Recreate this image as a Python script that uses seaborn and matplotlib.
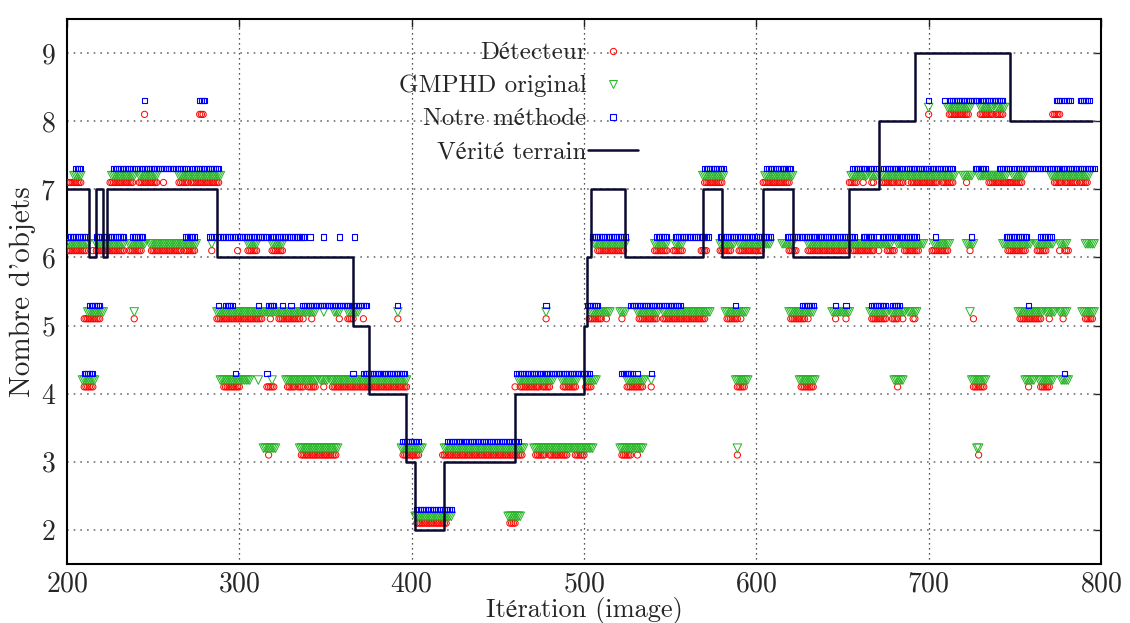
import pandas as pd
import seaborn as sns
import matplotlib.pyplot as plt
from matplotlib.lines import Line2D

# runs of consecutive iterations (start, end), per object count
DET_RUNS = {
    8: [(245, 245), (277, 279), (700, 700), (712, 723), (730, 737), (739, 743), (772, 776)],
    7: [(201, 208), (225, 238), (242, 252), (256, 256), (265, 270), (272, 288), (570, 580),
        (604, 619), (654, 658), (662, 662), (667, 668), (673, 680), (682, 685), (688, 688),
        (690, 705), (708, 714), (722, 722), (735, 754), (773, 777), (779, 786), (788, 792)],
    6: [(200, 211), (215, 215), (217, 227), (228, 233), (236, 243), (249, 266), (268, 274),
        (284, 284), (299, 299), (305, 310), (319, 325), (508, 523), (541, 548), (552, 557),
        (568, 571), (579, 585), (590, 603), (619, 623), (630, 653), (656, 668), (671, 671),
        (676, 680), (686, 694), (702, 711), (724, 724), (746, 756), (763, 768), (776, 776),
        (779, 781)],
    5: [(210, 219), (239, 239), (287, 313), (318, 318), (323, 335), (337, 337), (342, 342),
        (358, 358), (363, 366), (372, 372), (392, 392), (478, 478), (503, 510), (513, 513),
        (522, 522), (532, 542), (546, 570), (583, 589), (591, 591), (620, 628), (630, 630),
        (646, 646), (652, 652), (667, 675), (679, 682), (685, 685), (691, 692), (726, 726),
        (753, 765), (770, 770), (778, 778), (791, 795)],
    4: [(210, 215), (291, 300), (316, 320), (328, 332), (334, 337), (340, 344), (349, 349),
        (354, 397), (460, 460), (463, 474), (476, 480), (488, 495), (501, 504), (525, 534),
        (539, 539), (589, 593), (626, 633), (682, 682), (726, 732), (758, 758), (765, 770)],
    3: [(317, 317), (336, 356), (395, 404), (418, 464), (472, 477), (480, 490), (495, 500),
        (522, 527), (531, 531), (589, 589), (729, 729)],
    2: [(403, 420), (457, 460)],
}

GMPHD_RUNS = {
    8: [(700, 700), (711, 724), (730, 737), (739, 744)],
    7: [(204, 208), (226, 239), (242, 252), (265, 271), (272, 289), (569, 581), (605, 621),
        (655, 664), (666, 670), (673, 706), (707, 715), (720, 725), (729, 745), (749, 755),
        (771, 782), (783, 793)],
    6: [(200, 212), (217, 233), (236, 245), (248, 275), (284, 284), (305, 310), (319, 325),
        (506, 524), (541, 548), (553, 557), (579, 587), (590, 608), (615, 621), (630, 669),
        (670, 678), (682, 697), (703, 712), (722, 726), (743, 759), (762, 772), (776, 780),
        (791, 796)],
    5: [(212, 221), (239, 239), (287, 339), (340, 344), (349, 349), (355, 358), (363, 369),
        (392, 392), (478, 478), (504, 511), (512, 515), (521, 524), (531, 543), (546, 573),
        (582, 594), (619, 633), (644, 654), (666, 676), (678, 686), (688, 693), (724, 724),
        (752, 766), (768, 773), (776, 780), (789, 796)],
    4: [(209, 216), (289, 306), (311, 311), (319, 319), (327, 338), (339, 345), (347, 351),
        (353, 397), (462, 482), (487, 496), (501, 507), (525, 535), (539, 539), (588, 595),
        (625, 634), (680, 685), (725, 733), (756, 761), (764, 772), (777, 781)],
    3: [(314, 321), (335, 357), (394, 406), (419, 465), (471, 491), (492, 505), (521, 534),
        (589, 589), (728, 729)],
    2: [(402, 423), (456, 463)],
}

NOTRE_RUNS = {
    8: [(245, 245), (277, 280), (700, 700), (709, 709), (712, 729), (731, 743), (774, 777),
        (779, 782), (788, 793)],
    7: [(205, 208), (227, 240), (242, 270), (273, 288), (570, 581), (606, 620), (656, 664),
        (666, 669), (674, 680), (681, 685), (687, 690), (691, 714), (727, 733), (741, 747),
        (750, 767), (769, 780), (781, 790), (791, 796)],
    6: [(200, 211), (217, 233), (238, 244), (269, 274), (283, 285), (288, 316), (319, 338),
        (341, 341), (349, 349), (358, 358), (367, 367), (505, 524), (542, 548), (553, 572),
        (579, 608), (618, 657), (662, 668), (670, 670), (673, 682), (684, 693), (704, 704),
        (725, 725), (745, 757), (765, 771)],
    5: [(213, 219), (288, 288), (292, 296), (311, 311), (317, 320), (325, 325), (330, 330),
        (337, 374), (392, 392), (478, 478), (502, 508), (527, 545), (547, 556), (588, 588),
        (627, 633), (646, 646), (652, 652), (667, 675), (679, 683), (758, 758)],
    4: [(210, 215), (298, 298), (316, 316), (366, 366), (372, 396), (461, 503), (522, 528),
        (531, 531), (539, 539), (779, 779)],
    3: [(395, 404), (421, 462)],
    2: [(403, 423)],
}

# ground truth: iteration where the count changes, and the new count
GT_ITER = [200, 213, 217, 221, 223, 287, 366, 375, 397, 402, 419, 460, 500, 502, 504,
           524, 569, 580, 604, 621, 654, 671, 692, 747, 795]
GT_COUNT = [7, 6, 7, 6, 7, 6, 5, 4, 3, 2, 3, 4, 5, 6, 7,
            6, 7, 6, 7, 6, 7, 8, 9, 8, 8]

LABELS = ["Détecteur", "GMPHD original", "Notre méthode", "Vérité terrain"]


def expand(runs):
    rows = []
    for count, spans in runs.items():
        for a, b in spans:
            for it in range(a, b + 1):
                rows.append((it, count))
    return pd.DataFrame(rows, columns=["iteration", "count"])


det = expand(DET_RUNS)
gmphd = expand(GMPHD_RUNS)
notre = expand(NOTRE_RUNS)
gt = pd.DataFrame({"iteration": GT_ITER, "count": GT_COUNT})

# markers are drawn slightly above the integer count so the series do not overlap
det["y"] = det["count"] + 0.1
gmphd["y"] = gmphd["count"] + 0.2
notre["y"] = notre["count"] + 0.3

sns.set_style("white")
plt.rcParams["font.family"] = ["cmr10", "STIXGeneral", "DejaVu Serif"]
plt.rcParams["mathtext.fontset"] = "cm"
plt.rcParams["axes.formatter.use_mathtext"] = True

fig = plt.figure(figsize=(11.3, 6.23), dpi=100)
ax = fig.add_axes([67 / 1130, 59 / 623, 1034 / 1130, 545 / 623])

red, green, blue, navy = "#ff0000", "#22b422", "#0000ff", "#0a0a30"

sns.scatterplot(data=det, x="iteration", y="y", marker="o", s=20, facecolor="none",
                edgecolor=red, linewidth=0.7, ax=ax, zorder=3)
sns.scatterplot(data=gmphd, x="iteration", y="y", marker="v", s=38, facecolor="none",
                edgecolor=green, linewidth=0.7, ax=ax, zorder=3)
sns.scatterplot(data=notre, x="iteration", y="y", marker="s", s=14, facecolor="none",
                edgecolor=blue, linewidth=0.8, ax=ax, zorder=3)
sns.lineplot(data=gt, x="iteration", y="count", drawstyle="steps-post", color=navy,
             linewidth=1.8, ax=ax, zorder=4)

ax.set_xlim(200, 800)
ax.set_ylim(1.5, 9.5)
ax.set_xticks([200, 300, 400, 500, 600, 700, 800])
ax.set_yticks([2, 3, 4, 5, 6, 7, 8, 9])
ax.grid(False)
for x in [300, 400, 500, 600, 700]:
    ax.axvline(x, color="0.1", linestyle=(0, (1, 3)), linewidth=0.9, zorder=1)
for y in [2, 3, 4, 5, 6, 7, 8, 9]:
    ax.axhline(y, color="0.45", linestyle=(0, (1, 3)), linewidth=1.2, zorder=1)

ax.tick_params(direction="in", length=6, width=1, labelsize=20, top=True, right=True)
ax.tick_params(axis="x", pad=5)
ax.tick_params(axis="y", pad=8)
for sp in ax.spines.values():
    sp.set_linewidth(1.5)
    sp.set_color("black")

ax.set_xlabel("Itération (image)", fontsize=19, labelpad=0)
ax.set_ylabel("Nombre d'objets", fontsize=21, labelpad=3)

handles = [
    Line2D([], [], linestyle="none", marker="o", markersize=4.5, markerfacecolor="none",
           markeredgecolor=red, markeredgewidth=0.7),
    Line2D([], [], linestyle="none", marker="v", markersize=6.2, markerfacecolor="none",
           markeredgecolor=green, markeredgewidth=0.7),
    Line2D([], [], linestyle="none", marker="s", markersize=3.8, markerfacecolor="none",
           markeredgecolor=blue, markeredgewidth=0.8),
    Line2D([], [], color=navy, linewidth=1.8),
]
ax.legend(handles, LABELS, loc="upper right", bbox_to_anchor=(0.552, 0.958),
          frameon=False, markerfirst=False, fontsize=18, handlelength=2.0,
          handletextpad=0.05, labelspacing=0.42, borderpad=0, borderaxespad=0)

fig.savefig("out.png", dpi=100)
